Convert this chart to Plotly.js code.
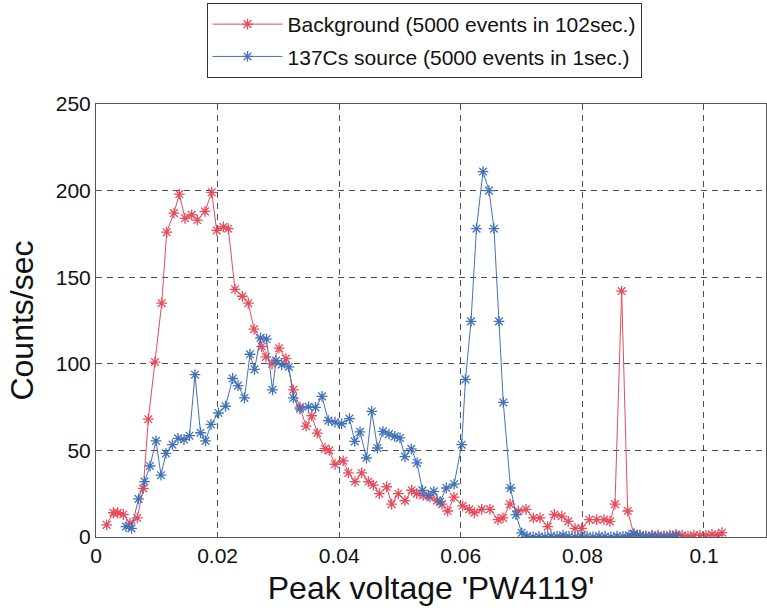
<!DOCTYPE html>
<html><head><meta charset="utf-8">
<script src="https://cdn.plot.ly/plotly-3.0.1.min.js"></script>
<style>html,body{margin:0;padding:0;background:#fff}#chart{width:767px;height:611px}</style>
</head><body><div id="chart"></div>
<script>
// Background series
const bgVoltage = [0.00176,0.00285,0.00357,0.00449,0.00559,0.00679,0.00778,0.00860,0.00970,0.01081,
  0.01163,0.01283,0.01370,0.01464,0.01574,0.01666,0.01793,0.01903,0.01985,0.02094,
  0.02176,0.02286,0.02406,0.02505,0.02599,0.02725,0.02796,0.02895,0.03010,0.03125,
  0.03245,0.03355,0.03454,0.03548,0.03640,0.03766,0.03837,0.03931,0.04067,0.04150,
  0.04260,0.04370,0.04479,0.04561,0.04660,0.04781,0.04863,0.04972,0.05082,0.05192,
  0.05275,0.05383,0.05493,0.05609,0.05691,0.05785,0.05888,0.06031,0.06140,0.06222,
  0.06344,0.06480,0.06612,0.06694,0.06809,0.06946,0.07072,0.07193,0.07303,0.07429,
  0.07538,0.07660,0.07768,0.07878,0.07988,0.08113,0.08235,0.08355,0.08454,0.08536,
  0.08646,0.08745,0.08849,0.08947,0.09046,0.09145,0.09243,0.09342,0.09441,0.09539,
  0.09638,0.09737,0.09836,0.09934,0.10033,0.10132,0.10230,0.10296];
const bgCounts = [7,14,14,13,8,11,28,68,101,135,
  176,187,198,184,186,183,188,199,177,179,
  178,143,139,135,120,110,104,100,109,103,
  85,75,64,70,60,51,50,42,44,37,
  32,37,32,30,25,29,19,25,21,27,
  25,24,23,21,19,15,23,18,16,14,
  16,16,10,11,19,15,16,11,11,6,
  13,12,9,5,5,10,10,10,9,19,
  142,15,1.4,1,0.5,1,1,0.5,1,1.5,
  1,0.5,1,1,1,1.5,1,2.5];
// 137Cs source series
const csVoltage = [0.00493,0.00584,0.00699,0.00798,0.00888,0.00987,0.01069,0.01151,0.01258,0.01349,
  0.01447,0.01538,0.01628,0.01719,0.01801,0.01891,0.02015,0.02130,0.02248,0.02336,
  0.02442,0.02533,0.02607,0.02706,0.02804,0.02903,0.02961,0.03054,0.03174,0.03245,
  0.03355,0.03495,0.03610,0.03717,0.03821,0.03931,0.04041,0.04169,0.04255,0.04342,
  0.04449,0.04535,0.04630,0.04720,0.04819,0.04914,0.05000,0.05082,0.05186,0.05280,
  0.05370,0.05466,0.05556,0.05658,0.05762,0.05891,0.06015,0.06077,0.06168,0.06258,
  0.06365,0.06464,0.06546,0.06628,0.06699,0.06818,0.06908,0.07002,0.07089,0.07188,
  0.07286,0.07385,0.07484,0.07582,0.07681,0.07780,0.07878,0.07977,0.08076,0.08174,
  0.08273,0.08372,0.08470,0.08569,0.08668,0.08766,0.08849,0.08947,0.09046,0.09145,
  0.09243,0.09342,0.09441,0.09548];
const csCounts = [6,5,22,32,41,55.5,35.7,48.3,53.3,57,
  56.3,58.5,93.7,60.2,55.5,65,71.6,75.5,91.5,87.4,
  80.3,105.5,96.8,115,114.3,85,101.9,99.5,98.2,80.3,
  74,75.2,74.8,81.2,67.2,66.3,65.4,68.4,55.2,60.7,
  45.6,72.5,51.4,61,59.4,58.1,57.2,46.4,50.9,42.8,
  26.9,24,26.4,20.3,28.3,30.5,53.3,91,124.5,178,
  211,200,178,124.5,77.7,28.3,12.9,2.4,0.5,0,
  0.3,0,0.5,0.3,1,0.3,0,0.5,0.3,0,
  0.5,0.3,0,0.5,0.3,1,2,1,0.5,0.5,
  0.3,0.5,0.3,0.8];
const seriesNames = ['Background (5000 events in 102sec.)', '137Cs source (5000 events in 1sec.)'];
const xTickVals = [0, 0.02, 0.04, 0.06, 0.08, 0.1];
const xTickText = ['0', '0.02', '0.04', '0.06', '0.08', '0.1'];
const yTickVals = [0, 50, 100, 150, 200, 250];
const yTickText = ['0', '50', '100', '150', '200', '250'];

const red = '#e64c5c', blue = '#4272ba';
function trace(x, y, name, color, grp) {
  return {x: x, y: y, name: name, type: 'scatter', mode: 'lines+markers', legendgroup: grp,
    line: {color: color, width: 1},
    marker: {symbol: 'asterisk-open', size: 9, color: color, line: {color: color, width: 1.3}}};
}
const data = [
  trace(bgVoltage, bgCounts, seriesNames[0], red, 'a'),
  trace(csVoltage, csCounts, seriesNames[1], blue, 'b')
];
const axisCommon = {
  showline: true, mirror: true, linecolor: '#555', linewidth: 1,
  ticks: 'inside', ticklen: 5, tickcolor: '#555',
  showgrid: true, gridcolor: '#222', gridwidth: 0.8, griddash: '6px,5px',
  zeroline: false, tickfont: {size: 21, color: '#111'}
};
const layout = {
  width: 767, height: 611,
  margin: {l: 96, r: 1, t: 104, b: 74},
  paper_bgcolor: '#fff', plot_bgcolor: '#fff',
  font: {family: 'Liberation Sans, Arial, sans-serif', color: '#111'},
  showlegend: true,
  legend: {x: 0.165, y: 1.2333, xanchor: 'left', yanchor: 'top', bgcolor: '#fff',
    bordercolor: '#333', borderwidth: 1, font: {size: 21, color: '#111'},
    traceorder: 'grouped', tracegroupgap: 2, itemwidth: 70},
  xaxis: Object.assign({}, axisCommon, {range: [0, 0.1102], tickmode: 'array', tickvals: xTickVals, ticktext: xTickText,
    title: {text: "Peak voltage 'PW4119'", font: {size: 32, color: '#111'}, standoff: 10}}),
  yaxis: Object.assign({}, axisCommon, {range: [0, 250], tickmode: 'array', tickvals: yTickVals, ticktext: yTickText,
    title: {text: 'Counts/sec', font: {size: 32, color: '#111'}, standoff: 12}})
};
Plotly.newPlot('chart', data, layout, {displayModeBar: false, staticPlot: true});
</script>
</body></html>
